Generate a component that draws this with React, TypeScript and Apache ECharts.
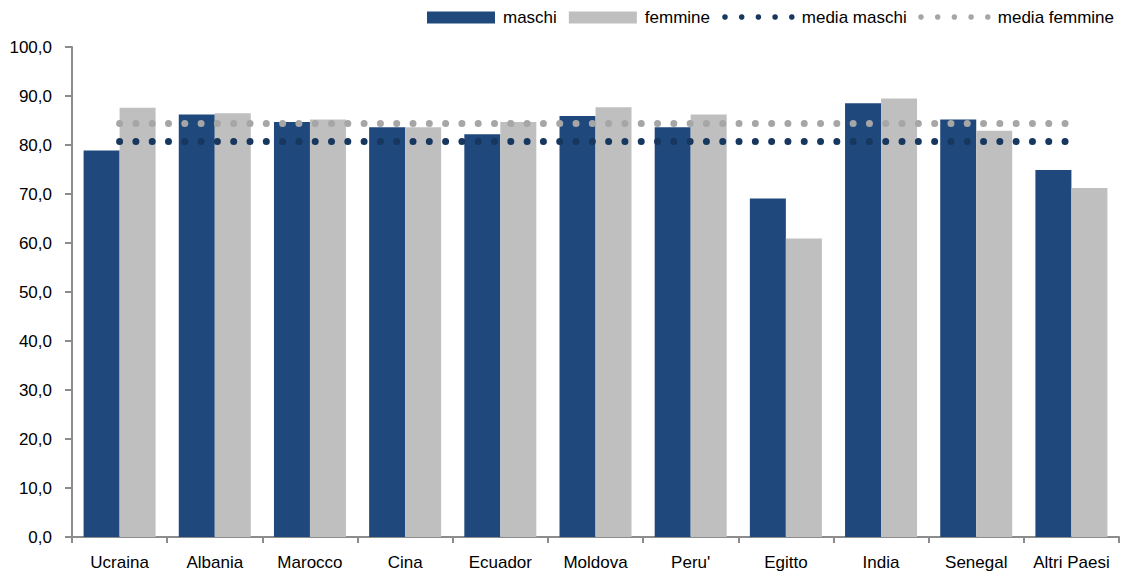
import React, { useEffect, useRef } from "react";
import * as echarts from "echarts";

const categories = ["Ucraina", "Albania", "Marocco", "Cina", "Ecuador", "Moldova", "Peru'", "Egitto", "India", "Senegal", "Altri Paesi"];
const maschi = [78.9, 86.2, 84.7, 83.6, 82.2, 85.9, 83.6, 69.1, 88.5, 85.2, 74.9];
const femmine = [87.6, 86.5, 85.2, 83.6, 84.7, 87.7, 86.2, 60.9, 89.5, 82.9, 71.2];
const mediaMaschi = 80.7;
const mediaFemmine = 84.4;
const yTicks = { min: 0, max: 100, interval: 10 };
const lineLegend = [
  { name: "media maschi", color: "#17375e", x: 725 },
  { name: "media femmine", color: "#a6a6a6", x: 921 },
];

const FONT = "'Liberation Sans', Arial, sans-serif";

export default function App() {
  const ref = useRef<HTMLDivElement>(null);
  useEffect(() => {
    if (!ref.current) return;
    const chart = echarts.init(ref.current, undefined, { renderer: "svg" });
    const axisColor = "#8c8c8c";
    const legendY = 17;
    const graphics: any[] = [];
    lineLegend.forEach((it) => {
      for (let i = 0; i < 5; i++) {
        graphics.push({
          type: "circle",
          shape: { cx: it.x + i * 16.7, cy: legendY, r: 2.8 },
          style: { fill: it.color },
          silent: true,
        });
      }
      graphics.push({
        type: "text",
        x: it.x + 4 * 16.7 + 10,
        y: legendY,
        style: { text: it.name, fontSize: 17, fontFamily: FONT, fill: "#000", textVerticalAlign: "middle", verticalAlign: "middle" },
        silent: true,
      });
    });
    chart.setOption({
      animation: false,
      textStyle: { fontFamily: FONT },
      grid: { left: 72, right: 14, top: 47, bottom: 36 },
      legend: {
        left: 427,
        top: 9,
        padding: 0,
        itemWidth: 68,
        itemHeight: 12,
        itemGap: 12,
        textStyle: { fontSize: 17, color: "#000", fontFamily: FONT, padding: [0, 0, 0, 3] },
        data: [
          { name: "maschi", icon: "rect" },
          { name: "femmine", icon: "rect" },
        ],
      },
      graphic: graphics,
      xAxis: {
        type: "category",
        data: categories,
        axisLine: { show: true, lineStyle: { color: axisColor, width: 2 } },
        axisTick: { show: true, alignWithLabel: false, length: 6, lineStyle: { color: axisColor, width: 2 } },
        axisLabel: { color: "#000", fontSize: 17, margin: 17, fontFamily: FONT, interval: 0 },
        splitLine: { show: false },
      },
      yAxis: {
        type: "value",
        min: yTicks.min,
        max: yTicks.max,
        interval: yTicks.interval,
        axisLine: { show: true, lineStyle: { color: axisColor, width: 2 } },
        axisTick: { show: true, length: 7, lineStyle: { color: axisColor, width: 2 } },
        axisLabel: {
          color: "#000",
          fontSize: 17,
          margin: 20,
          fontFamily: FONT,
          formatter: (v: number) => v.toFixed(1).replace(".", ","),
        },
        splitLine: { show: false },
      },
      series: [
        {
          name: "maschi",
          type: "bar",
          data: maschi,
          barWidth: 36,
          barGap: "0%",
          itemStyle: { color: "#1f497d" },
        },
        {
          name: "femmine",
          type: "bar",
          data: femmine,
          barWidth: 36,
          barGap: "0%",
          itemStyle: { color: "#bfbfbf" },
        },
        {
          name: "media maschi",
          type: "line",
          data: categories.map(() => mediaMaschi),
          symbol: "none",
          z: 5,
          lineStyle: { color: "#17375e", width: 7, type: [0.001, 16.3], cap: "round" },
          itemStyle: { color: "#17375e" },
        },
        {
          name: "media femmine",
          type: "line",
          data: categories.map(() => mediaFemmine),
          symbol: "none",
          z: 5,
          lineStyle: { color: "#a6a6a6", width: 7, type: [0.001, 16.3], cap: "round" },
          itemStyle: { color: "#a6a6a6" },
        },
      ],
    });
    return () => chart.dispose();
  }, []);
  return (
    <div
      ref={ref}
      style={{ position: "fixed", left: 0, top: 0, width: 1133, height: 573, background: "#fff" }}
    />
  );
}
